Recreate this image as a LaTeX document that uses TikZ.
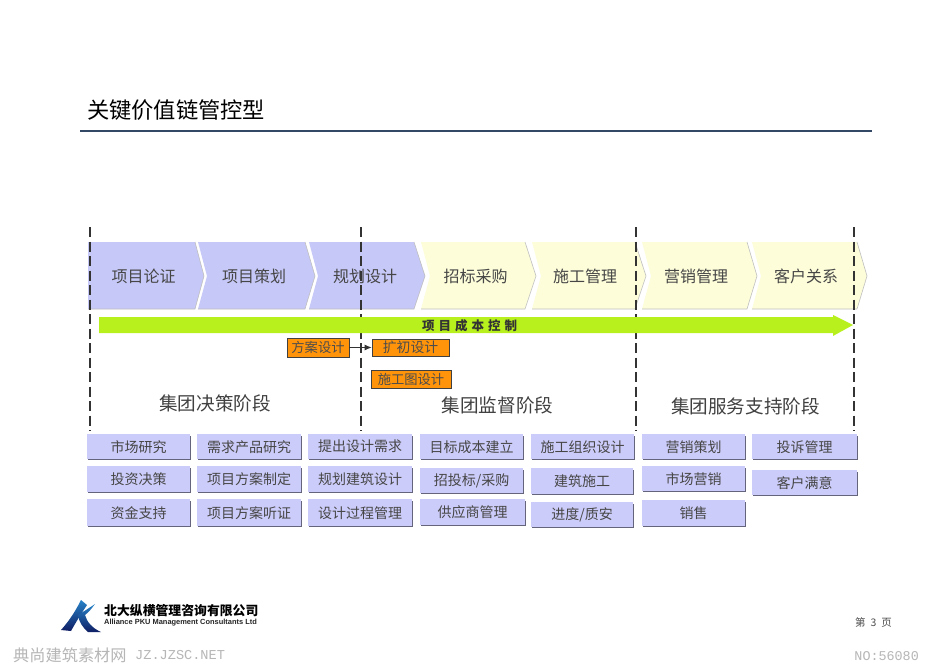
\documentclass[tikz,border=0pt]{standalone}
\usepackage{fontspec}
\setmainfont{Noto Sans CJK SC}
\newfontfamily\latinsans{Liberation Sans}
\newfontfamily\monof{Liberation Mono}
\usetikzlibrary{arrows.meta}
\definecolor{chevblue}{RGB}{198,200,248}
\definecolor{chevyellow}{RGB}{253,253,218}
\definecolor{boxblue}{RGB}{204,204,250}
\definecolor{boxshadow}{RGB}{100,100,125}
\definecolor{limegreen}{RGB}{184,240,30}
\definecolor{orangebox}{RGB}{255,148,10}
\definecolor{txt}{RGB}{70,70,70}
\definecolor{rulecol}{RGB}{50,72,100}
\definecolor{wm}{RGB}{182,182,182}
\definecolor{logodark}{RGB}{15,30,100}
\definecolor{logolight}{RGB}{40,130,200}
\tikzset{
  x=1pt,y=-1pt,
  chevlabel/.style={font=\fontsize{16}{16}\selectfont,text=txt,inner sep=0pt},
  stagelabel/.style={font=\fontsize{18.6}{18.6}\selectfont,text=black!75,inner sep=0pt},
  item/.style={draw=none,fill=boxblue,inner sep=0pt,
    font=\fontsize{14}{14}\selectfont,text=txt},
  chevb/.style={fill=chevblue,draw=none},
  chevy/.style={fill=chevyellow,draw=none},
  chevedge/.style={draw=gray!50,line width=.6pt},
  dashline/.style={draw=black!80,line width=1.3pt,dash pattern=on 10pt off 4.5pt},
  orangeitem/.style={fill=orangebox,draw=black!75,line width=.8pt,inner sep=0pt,
    font=\fontsize{13.3}{13.3}\selectfont,text=black!70},
}
\newcommand{\itembox}[6]{% name x1 y1 x2 y2 text
  \fill[boxshadow] (#2+1,#3+2) rectangle (#4+1,#5+1);
  \node[item,minimum width=#4pt-#2pt,minimum height=#5pt-#3pt,anchor=north west] (#1) at (#2,#3) {#6};
}
\newcommand{\chev}[8]{% style left notch tr tip name text labelx
  \path[#1] (#2,242) -- (#4,242) -- (#5,276) -- (#4,309) -- (#2,309) -- (#3,276) -- cycle;
  \path[chevedge] (#4,242) -- (#5,276) -- (#4,309) -- (#2,309);
  \node[chevlabel] (#6) at (#8,276) {#7};
}
\begin{document}
\begin{tikzpicture}
\useasboundingbox[fill=white] (0,0) rectangle (950,671);
% title
\node[anchor=west,inner sep=0pt,font=\fontsize{22.25}{22.25}\selectfont,text=black] (title) at (87,110) {关键价值链管控型};
\coordinate (ruleL) at (80,131); \coordinate (ruleR) at (872,131);
\draw[rulecol,line width=1.2pt] (ruleL) -- (ruleR);
% chevrons
\path[chevb] (88,242) -- (195,242) -- (204,276) -- (195,309) -- (88,309) -- cycle;
\path[chevedge] (88,309) -- (195,309) -- (204,276) -- (195,242);
\node[chevlabel] (c1) at (143.5,276) {项目论证};
\chev{chevb}{198}{207}{305}{315}{c2}{项目策划}{254}
\chev{chevb}{309}{318}{414}{425}{c3}{规划设计}{365}
\chev{chevy}{421}{430}{525}{536}{c4}{招标采购}{475.5}
\chev{chevy}{532}{541}{635}{646}{c5}{施工管理}{585}
\chev{chevy}{642}{651}{747}{757}{c6}{营销管理}{696}
\chev{chevy}{752}{761}{857}{867}{c7}{客户关系}{806}
% dashed
\foreach \n/\x in {a/90,b/361,c/636,d/854}{
  \coordinate (\n t) at (\x,227); \coordinate (\n b) at (\x,431);
  \draw[dashline] (\n t) -- (\n b);
}
% green arrow
\path[fill=limegreen] (99,317) -- (833,317) -- (833,315) -- (853,325) -- (833,336) -- (833,333) -- (99,333) -- cycle;
\node[inner sep=0pt,font=\fontsize{12.5}{12.5}\bfseries\selectfont,text=black!80] (cost) at (469.5,325.5) {项\hspace{4pt}目\hspace{4pt}成\hspace{4pt}本\hspace{4pt}控\hspace{4pt}制};
% orange
\node[orangeitem,minimum width=62pt,minimum height=19pt] (fa) at (318,347.5) {方案设计};
\node[orangeitem,minimum width=77pt,minimum height=17pt,font=\fontsize{13.8}{13.8}\selectfont] (kc) at (410.5,347.5) {扩初设计};
\node[orangeitem,minimum width=80pt,minimum height=18pt] (sg) at (411,379) {施工图设计};
\draw[-{Latex[length=7pt,width=6pt]},black!80,line width=.8pt] (fa) -- (kc);
% stage labels
\node[stagelabel] (s1) at (215,403) {集团决策阶段};
\node[stagelabel] (s2) at (497.5,405) {集团监督阶段};
\node[stagelabel] (s3) at (745.5,406) {集团服务支持阶段};
% items
\itembox{i1}{87}{434}{190}{459}{市场研究}
\itembox{i2}{87}{466}{190}{492}{投资决策}
\itembox{i3}{87}{499}{190}{526}{资金支持}
\itembox{i4}{197}{434}{301}{459}{需求产品研究}
\itembox{i5}{197}{466}{301}{492}{项目方案制定}
\itembox{i6}{197}{499}{301}{526}{项目方案听证}
\itembox{i7}{308}{434}{412}{459}{提出设计需求}
\itembox{i8}{308}{466}{412}{492}{规划建筑设计}
\itembox{i9}{308}{499}{412}{526}{设计过程管理}
\itembox{i10}{420}{434}{523}{459}{目标成本建立}
\itembox{i11}{420}{468}{523}{493}{招投标/采购}
\itembox{i12}{420}{499}{525}{525}{供应商管理}
\itembox{i13}{531}{434}{634}{459}{施工组织设计}
\itembox{i14}{531}{468}{633}{494}{建筑施工}
\itembox{i15}{531}{502}{633}{527}{进度/质安}
\itembox{i16}{642}{434}{745}{459}{营销策划}
\itembox{i17}{642}{466}{745}{491}{市场营销}
\itembox{i18}{642}{500}{745}{526}{销售}
\itembox{i19}{752}{434}{857}{459}{投诉管理}
\itembox{i20}{752}{470}{857}{495}{客户满意}
% logo
\path[bottom color=logodark,top color=logolight] (61,630) .. controls (70,620) and (76,610) .. (81,600) -- (87,605) .. controls (81,614) and (76,622) .. (71,631) -- cycle;
\path[bottom color=logodark,top color=logolight] (101,632) .. controls (92,628) and (87,622) .. (85,615) .. controls (89,612) and (92,608) .. (95,604) .. controls (89,608) and (83,612) .. (78,615) .. controls (79,622) and (83,628) .. (88,632) -- cycle;
\node[anchor=west,inner sep=0pt,font=\fontsize{12.85}{12.85}\bfseries\selectfont,text=black] (logo1) at (104,611) {北大纵横管理咨询有限公司};
\node[anchor=west,inner sep=0pt,font=\latinsans\fontsize{7.45}{7.45}\bfseries\selectfont,text=black!85] (logo2) at (104,622.7) {Alliance PKU Management Consultants Ltd};
% footer
\node[inner sep=0pt,font=\fontsize{10.5}{10.5}\selectfont,text=black!70] (page) at (873.5,622.5) {第\hspace{5pt}3\hspace{5pt}页};
\node[anchor=west,inner sep=0pt,font=\fontsize{16.2}{16.2}\selectfont,text=wm] (wm1) at (13,655) {典尚建筑素材网};
\node[anchor=west,inner sep=0pt,font=\monof\fontsize{13.6}{13.6}\selectfont,text=wm] (wm3) at (135,655) {JZ.JZSC.NET};
\node[anchor=east,inner sep=0pt,font=\monof\fontsize{13.4}{13.4}\selectfont,text=wm] (wm2) at (919,656) {NO:56080};
\end{tikzpicture}
\end{document}
